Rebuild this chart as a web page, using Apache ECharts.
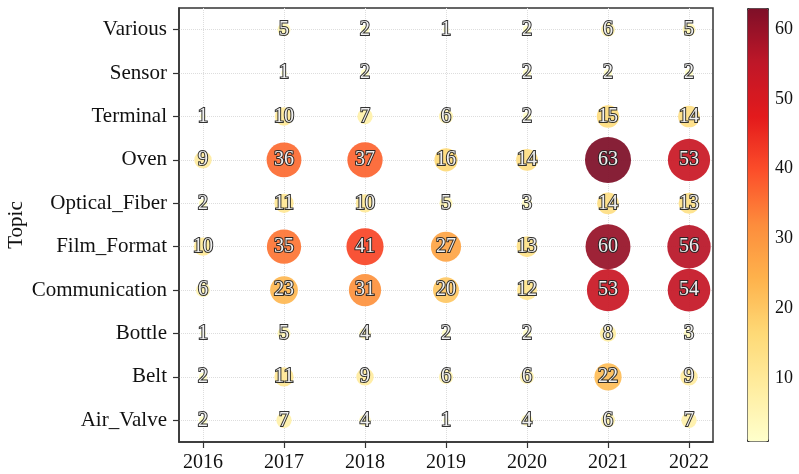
<!DOCTYPE html>
<html>
<head>
<meta charset="utf-8">
<script src="https://cdn.jsdelivr.net/npm/echarts@6/dist/echarts.min.js"></script>
<style>
  html, body { margin: 0; padding: 0; background: #fff; }
  #chart { width: 799px; height: 474px; }
</style>
</head>
<body>
<div id="chart"></div>
<script>
// Yearly topic counts, bubble area proportional to count
const years = [2016, 2017, 2018, 2019, 2020, 2021, 2022];
const topics = ['Air_Valve', 'Belt', 'Bottle', 'Communication', 'Film_Format',
                'Optical_Fiber', 'Oven', 'Terminal', 'Sensor', 'Various'];

const airValve      = [2, 7, 4, 1, 4, 6, 7];
const belt          = [2, 11, 9, 6, 6, 22, 9];
const bottle        = [1, 5, 4, 2, 2, 8, 3];
const communication = [6, 23, 31, 20, 12, 53, 54];
const filmFormat    = [10, 35, 41, 27, 13, 60, 56];
const opticalFiber  = [2, 11, 10, 5, 3, 14, 13];
const oven          = [9, 36, 37, 16, 14, 63, 53];
const terminal      = [1, 10, 7, 6, 2, 15, 14];
const sensor        = [null, 1, 2, null, 2, 2, 2];
const various       = [null, 5, 2, 1, 2, 6, 5];

const colorbarTicks = [10, 20, 30, 40, 50, 60];

const rows = [airValve, belt, bottle, communication, filmFormat,
              opticalFiber, oven, terminal, sensor, various];

const points = [];
rows.forEach((row, ti) => {
  row.forEach((v, yi) => {
    if (v !== null) points.push([years[yi], ti, v]);
  });
});

// yellow-orange-red ramp
const ylOrRd = ['#ffffcc', '#ffeda0', '#fed976', '#feb24c', '#fd8d3c',
                '#fc4e2a', '#e31a1c', '#bf1728', '#7e0f28'];
const serif = 'Liberation Serif';

const chart = echarts.init(document.getElementById('chart'));
chart.setOption({
  animation: false,
  backgroundColor: '#fff',
  grid: [
    { left: 179, top: 8, width: 534, height: 434, show: true,
      containLabel: false, outerBoundsMode: 'none',
      borderColor: '#333', borderWidth: 1.5, backgroundColor: 'transparent' },
    { left: 747, top: 8, width: 21, height: 433, show: false,
      containLabel: false, outerBoundsMode: 'none' }
  ],
  xAxis: [
    {
      type: 'value', gridIndex: 0,
      min: 2016 - 24 / 81, max: 2022 + 24 / 81,
      axisLine: { show: true, onZero: false, lineStyle: { color: '#333', width: 1.5 } },
      axisTick: { show: true, length: 6, customValues: years,
                  lineStyle: { color: '#333', width: 1.2 } },
      axisLabel: { customValues: years, margin: 11, color: '#111',
                   fontFamily: serif, fontSize: 20, formatter: v => String(v) },
      splitLine: { show: true, lineStyle: { color: '#dddddd', type: 'dotted', width: 1 } }
    },
    { type: 'value', gridIndex: 1, show: false, min: 0, max: 1 }
  ],
  yAxis: [
    {
      type: 'value', gridIndex: 0,
      min: -0.5, max: topics.length - 0.5,
      name: 'Topic', nameLocation: 'middle', nameGap: 152, nameRotate: 90,
      nameMoveOverlap: false,
      nameTextStyle: { fontFamily: serif, fontSize: 21, color: '#111' },
      axisLine: { show: true, onZero: false, lineStyle: { color: '#333', width: 1.5 } },
      axisTick: { show: true, length: 6, customValues: topics.map((t, i) => i),
                  lineStyle: { color: '#333', width: 1.2 } },
      axisLabel: { customValues: topics.map((t, i) => i), margin: 12, color: '#111',
                   fontFamily: serif, fontSize: 21,
                   formatter: v => topics[Math.round(v)] },
      splitLine: { show: true, lineStyle: { color: '#dddddd', type: 'dotted', width: 1 } }
    },
    {
      type: 'value', gridIndex: 1, position: 'right',
      min: 1, max: 63,
      axisLine: { show: false },
      axisTick: { show: true, length: 5, customValues: colorbarTicks,
                  lineStyle: { color: '#333', width: 1 } },
      axisLabel: { customValues: colorbarTicks, margin: 7, color: '#111',
                   fontFamily: serif, fontSize: 18 },
      splitLine: { show: false }
    }
  ],
  visualMap: {
    type: 'continuous',
    min: 1, max: 63,
    dimension: 2,
    seriesIndex: 0,
    calculable: false,
    hoverLink: false,
    left: 747, top: 8,
    itemWidth: 21, itemHeight: 433,
    padding: 0,
    borderColor: '#333', borderWidth: 1,
    text: null,
    inRange: { color: ylOrRd }
  },
  series: [
    {
      type: 'scatter',
      xAxisIndex: 0, yAxisIndex: 0,
      data: points,
      symbolSize: d => 5.8 * Math.sqrt(d[2]),
      itemStyle: { opacity: 0.93 },
      label: {
        show: true, position: 'inside',
        formatter: p => String(p.value[2]),
        fontFamily: serif, fontSize: 20,
        color: '#ffffff', textBorderColor: '#222', textBorderWidth: 2
      },
      z: 3
    },
    { type: 'scatter', xAxisIndex: 1, yAxisIndex: 1, data: [] }
  ]
});
</script>
</body>
</html>
